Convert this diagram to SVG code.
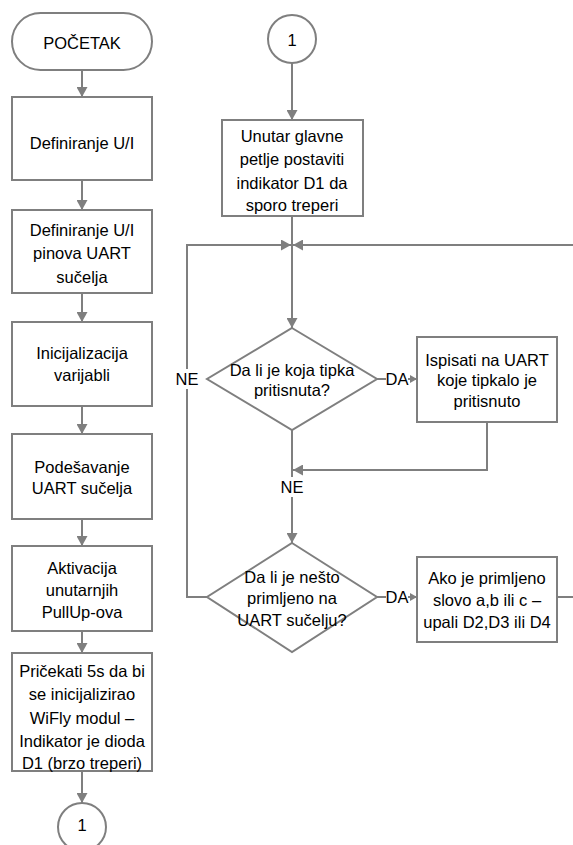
<svg xmlns="http://www.w3.org/2000/svg" width="573" height="845" viewBox="0 0 573 845">
<defs>
<style>
.shape{fill:#fff;stroke:#7f7f7f;stroke-width:2}
.conn{fill:none;stroke:#7f7f7f;stroke-width:2}
text{font-family:"Liberation Sans",Arial,sans-serif;font-size:16.5px;fill:#000;text-anchor:middle}
.lbl{fill:#fff;stroke:none}
</style>
<marker id="arr" markerUnits="userSpaceOnUse" markerWidth="10" markerHeight="11" refX="10" refY="5.5" orient="auto">
<path d="M0,0 L10,5.5 L0,11 z" fill="#7f7f7f"/>
</marker>
<marker id="arrs" markerUnits="userSpaceOnUse" markerWidth="7" markerHeight="8" refX="7" refY="4" orient="auto">
<path d="M0,0 L7,4 L0,8 z" fill="#7f7f7f"/>
</marker>
</defs>
<rect width="573" height="845" fill="#fff"/>

<g id="connectors">
<path class="conn" d="M82,70 V97" marker-end="url(#arr)"/>
<path class="conn" d="M82,180 V210" marker-end="url(#arr)"/>
<path class="conn" d="M82,293 V322" marker-end="url(#arr)"/>
<path class="conn" d="M82,406 V434" marker-end="url(#arr)"/>
<path class="conn" d="M82,519 V546" marker-end="url(#arr)"/>
<path class="conn" d="M82,631 V653" marker-end="url(#arr)"/>
<path class="conn" d="M82,771 V803" marker-end="url(#arr)"/>
<path class="conn" d="M292,63 V120" marker-end="url(#arr)"/>
<path class="conn" d="M292,216 V328" marker-end="url(#arr)"/>
<path class="conn" d="M207,597 H187 V245 H291" marker-end="url(#arr)"/>
<path class="conn" d="M557,597 H576"/>
<path class="conn" d="M576,245 H293" marker-end="url(#arr)"/>
<path class="conn" d="M377,379 H417" marker-end="url(#arrs)"/>
<path class="conn" d="M487,422 V470 H293" marker-end="url(#arr)"/>
<path class="conn" d="M292,430 V543" marker-end="url(#arr)"/>
<path class="conn" d="M377,597 H417" marker-end="url(#arrs)"/>
<rect class="lbl" x="175" y="369" width="24" height="20"/>
<text x="187" y="385">NE</text>
<rect class="lbl" x="280" y="477" width="24" height="20"/>
<text x="292" y="493">NE</text>
<rect class="lbl" x="386" y="370" width="22" height="18"/>
<text x="397" y="385">DA</text>
<rect class="lbl" x="386" y="588" width="22" height="18"/>
<text x="397" y="603">DA</text>
</g>

<g id="start">
<rect class="shape" x="12" y="13" width="140" height="57" rx="28.5" ry="28.5"/>
<text x="82" y="49">POČETAK</text>
</g>
<g id="box1">
<rect class="shape" x="12" y="97" width="140" height="83"/>
<text x="82" y="149">Definiranje U/I</text>
</g>
<g id="box2">
<rect class="shape" x="12" y="210" width="140" height="83"/>
<text x="82" y="235.5">Definiranje U/I</text>
<text x="82" y="258.5">pinova  UART</text>
<text x="82" y="282.5">sučelja</text>
</g>
<g id="box3">
<rect class="shape" x="12" y="322" width="140" height="84"/>
<text x="82" y="359">Inicijalizacija</text>
<text x="82" y="381">varijabli</text>
</g>
<g id="box4">
<rect class="shape" x="12" y="434" width="140" height="85"/>
<text x="82" y="473">Podešavanje</text>
<text x="82" y="494">UART  sučelja</text>
</g>
<g id="box5">
<rect class="shape" x="12" y="546" width="140" height="85"/>
<text x="82" y="574">Aktivacija</text>
<text x="82" y="596">unutarnjih</text>
<text x="82" y="618">PullUp-ova</text>
</g>
<g id="box6">
<rect class="shape" x="12" y="653" width="140" height="118"/>
<text x="82" y="677">Pričekati 5s da bi</text>
<text x="82" y="700">se inicijalizirao</text>
<text x="82" y="724">WiFly modul –</text>
<text x="82" y="747">Indikator je dioda</text>
<text x="82" y="769">D1 (brzo treperi)</text>
</g>
<g id="conn-bottom">
<circle class="shape" cx="82" cy="827" r="24"/>
<text x="82" y="831">1</text>
</g>

<g id="conn-top">
<circle class="shape" cx="292" cy="39" r="24"/>
<text x="292" y="46">1</text>
</g>
<g id="box7">
<rect class="shape" x="222" y="120" width="141" height="96"/>
<text x="292" y="142">Unutar glavne</text>
<text x="292" y="165">petlje postaviti</text>
<text x="292" y="189">indikator D1 da</text>
<text x="292" y="211">sporo treperi</text>
</g>
<g id="dec1">
<polygon class="shape" points="292,328 377,379 292,430 207,379"/>
<text x="292" y="376">Da li je koja tipka</text>
<text x="292" y="396">pritisnuta?</text>
</g>
<g id="box8">
<rect class="shape" x="417" y="337" width="140" height="85"/>
<text x="487" y="366">Ispisati na UART</text>
<text x="487" y="386">koje tipkalo je</text>
<text x="487" y="407">pritisnuto</text>
</g>
<g id="dec2">
<polygon class="shape" points="292,543 377,597 292,652 207,597"/>
<text x="292" y="583">Da li je nešto</text>
<text x="292" y="604">primljeno na</text>
<text x="292" y="626">UART sučelju?</text>
</g>
<g id="box9">
<rect class="shape" x="417" y="557" width="140" height="85"/>
<text x="487" y="584">Ako je primljeno</text>
<text x="487" y="606">slovo a,b ili c –</text>
<text x="487" y="628">upali D2,D3 ili D4</text>
</g>
</svg>
